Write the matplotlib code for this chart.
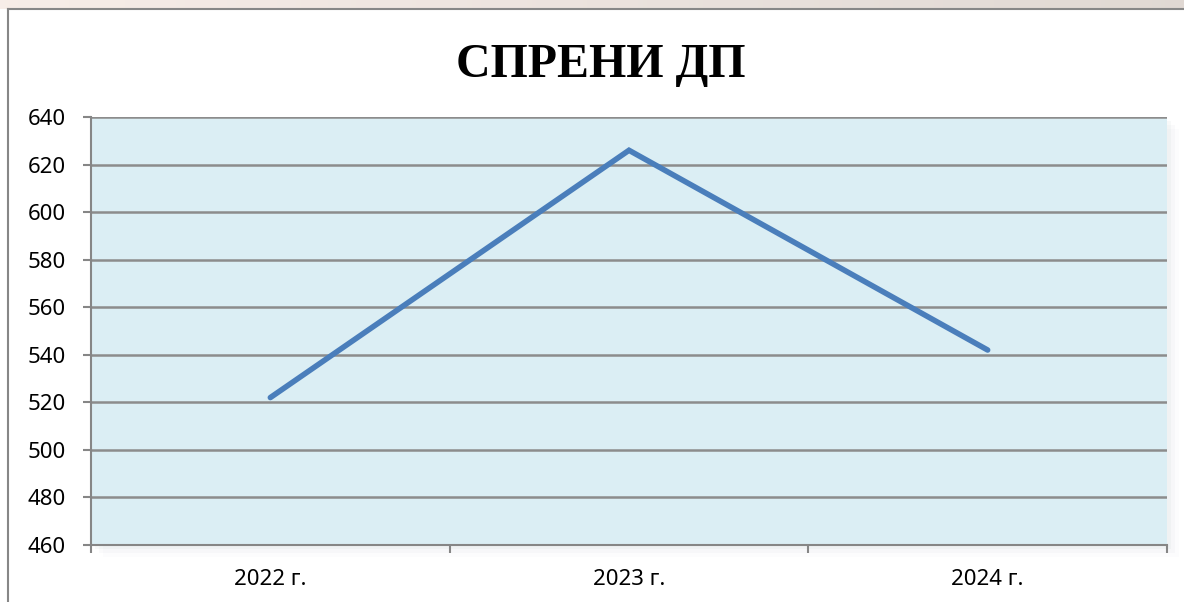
import matplotlib.pyplot as plt
import numpy as np
from matplotlib.patches import Rectangle
from matplotlib.lines import Line2D

years = ["2022 г.", "2023 г.", "2024 г."]
values = [522, 626, 542]
y_ticks = [460, 480, 500, 520, 540, 560, 580, 600, 620, 640]

W, H = 1184, 602
fig = plt.figure(figsize=(W / 100, H / 100), dpi=100)

# pinkish band at the very top
grad = np.linspace(0, 1, 256).reshape(1, -1)
band = fig.add_axes([0, 1 - 9 / H, 1, 9 / H])
c0 = np.array([0.97, 0.93, 0.91])
c1 = np.array([0.88, 0.85, 0.83])
img = c0[None, None, :] * (1 - grad[..., None]) + c1[None, None, :] * grad[..., None]
band.imshow(img, aspect="auto", extent=[0, 1, 0, 1])
band.axis("off")

# outer chart frame
fig.add_artist(Line2D([8 / W, 1], [1 - 9 / H, 1 - 9 / H], color="#878787", lw=1.5))
fig.add_artist(Line2D([8 / W, 8 / W], [0, 1 - 9 / H], color="#878787", lw=1.5))

left, right, top, bottom = 91, 1167, 117, 545
ax = fig.add_axes([left / W, 1 - bottom / H, (right - left) / W, (bottom - top) / H])

# soft shadow under the plot area
for i, a in enumerate([0.05, 0.035, 0.02]):
    off = (i + 1) * 4
    fig.add_artist(Rectangle(((left + off) / W, 1 - (bottom + off) / H),
                             (right - left) / W, (bottom - top) / H,
                             transform=fig.transFigure, color="#7f8c99",
                             alpha=a, zorder=-1, lw=0))

ax.set_facecolor("#DBEEF4")
x = np.arange(len(years))
ax.plot(x, values, color="#4A7EBB", lw=4, solid_capstyle="round",
        solid_joinstyle="miter", zorder=3)

ax.set_xlim(-0.5, len(years) - 0.5)
ax.set_ylim(460, 640)
ax.set_yticks(y_ticks)
ax.set_xticks(x)
ax.set_xticklabels(years)
ax.set_xticks(np.arange(-0.5, len(years)), minor=True)
ax.grid(axis="y", color="#8C8C8C", lw=1.8)
ax.set_axisbelow(True)

for s in ["top", "right"]:
    ax.spines[s].set_visible(False)
for s in ["left", "bottom"]:
    ax.spines[s].set_color("#868686")
    ax.spines[s].set_linewidth(1.5)

ax.tick_params(axis="y", length=6, width=1.5, color="#868686", labelsize=16, pad=12)
ax.tick_params(axis="x", which="major", length=0, labelsize=16, pad=17)
ax.tick_params(axis="x", which="minor", length=6, width=1.5, color="#868686")
for lab in ax.get_xticklabels() + ax.get_yticklabels():
    lab.set_fontfamily("Noto Sans")

fig.text(601 / W, 1 - 77 / H, "СПРЕНИ ДП", ha="center", va="baseline",
         fontsize=34.5, fontweight="bold", family="Liberation Serif")

fig.savefig("out.png", dpi=100)
